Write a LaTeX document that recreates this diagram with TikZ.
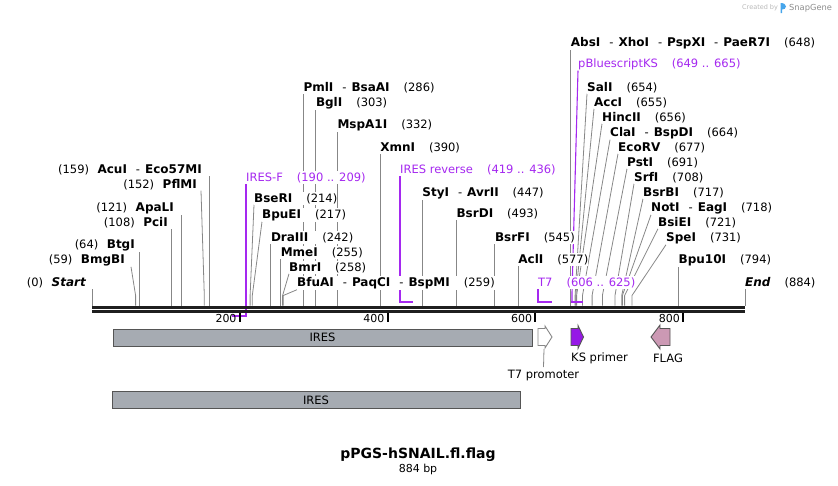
\documentclass[tikz,border=0pt]{standalone}
\usepackage{fontspec}
\setmainfont{DejaVu Sans}
\pgfdeclarelayer{lines}
\pgfsetlayers{lines,main}
\definecolor{sitegray}{RGB}{135,135,135}
\definecolor{prim}{RGB}{165,40,240}
\definecolor{primfill}{RGB}{150,25,230}
\definecolor{iresfill}{RGB}{166,171,178}
\definecolor{flagfill}{RGB}{204,153,180}
\definecolor{bordergray}{RGB}{85,85,85}
\definecolor{sgblue}{RGB}{70,165,235}
\newcommand\enz[1]{{\fontsize{12}{13}\selectfont\bfseries #1}}
\newcommand\enzi[1]{{\fontsize{12}{13}\selectfont\bfseries\itshape #1}}
\newcommand\enzgap{\hspace{14pt}}
\newcommand\enzdash{\hspace{9pt}-\hspace{5pt}}
\newcommand\lgap{\hspace{8.5pt}}
\begin{document}
\begin{tikzpicture}[x=1pt,y=-1pt,
  siteline/.style={draw=sitegray,line width=0.8pt},
  primline/.style={draw=prim,line width=1.5pt},
  lab/.style={fill=white,inner xsep=0pt,inner ysep=1pt,font=\fontsize{11.5}{13}\selectfont},
  rlab/.style={lab,anchor=base west},
  llab/.style={lab,anchor=base east},
  plab/.style={lab,anchor=base west,text=prim},
  featfont/.style={font=\fontsize{11.5}{13}\selectfont},
  tickmark/.style={draw=black,line width=2pt},
  seqline/.style={draw=black!88,line width=3pt},
  iresbox/.style={draw=bordergray,fill=iresfill,line width=0.9pt,featfont,inner sep=0pt,minimum height=17pt}
]
\useasboundingbox (0,0) rectangle (838,485);

% ---------- site coordinates ----------
\foreach \n/\x in {Start/92.3,BmgBI/135.6,BtgI/139.3,PciI/171.8,ApaLI/181.4,PflMI/204.3,AcuI/209.5,
  BseRI/250.1,BpuEI/252.3,DraIII/270.8,MmeI/280.6,BmrI/282.6,BfuAI/283.3,PmlI/303.3,BglI/315.8,
  MspA1I/337.3,XmnI/380.1,StyI/422.2,BsrDI/456.4,BsrFI/494.8,AclI/518.2,AbsI/570.7,SalI/575.1,
  AccI/575.8,HincII/576.6,ClaI/582.5,EcoRV/592.1,PstI/602.4,SrfI/615.0,BsrBI/621.7,NotI/622.4,
  BsiEI/624.6,SpeI/632.0,Bpu10I/678.5,End/745}
  \coordinate (s\n) at (\x,305.5);

% ---------- left-side labels ----------
\node[llab] (AcuI) at (202,173) {(159)\lgap\enz{AcuI}\enzdash\enz{Eco57MI}};
\node[llab] (PflMI) at (197,188) {(152)\lgap\enz{PflMI}};
\node[llab] (ApaLI) at (174,211) {(121)\lgap\enz{ApaLI}};
\node[llab] (PciI) at (168,226) {(108)\lgap\enz{PciI}};
\node[llab] (BtgI) at (135,248) {(64)\lgap\enz{BtgI}};
\node[llab] (BmgBI) at (125,263) {(59)\lgap\enz{BmgBI}};
\node[llab] (Start) at (86,286) {(0)\lgap\enzi{Start}};

% ---------- right-side labels ----------
\node[rlab] (PmlI) at (303.3,91) {\enz{PmlI}\enzdash\enz{BsaAI}\enzgap(286)};
\node[rlab] (BglI) at (315.8,106) {\enz{BglI}\enzgap(303)};
\node[rlab] (MspA1I) at (337.3,128) {\enz{MspA1I}\enzgap(332)};
\node[rlab] (XmnI) at (380.1,151) {\enz{XmnI}\enzgap(390)};
\node[rlab] (BseRI) at (254,202) {\enz{BseRI}\enzgap(214)};
\node[rlab] (BpuEI) at (262,218) {\enz{BpuEI}\enzgap(217)};
\node[rlab] (DraIII) at (270.8,241) {\enz{DraIII}\enzgap(242)};
\node[rlab] (MmeI) at (280.6,256) {\enz{MmeI}\enzgap(255)};
\node[rlab] (BmrI) at (289,271) {\enz{BmrI}\enzgap(258)};
\node[rlab] (BfuAI) at (297,286) {\enz{BfuAI}\enzdash\enz{PaqCI}\enzdash\enz{BspMI}\enzgap(259)};
\node[rlab] (StyI) at (422.2,196) {\enz{StyI}\enzdash\enz{AvrII}\enzgap(447)};
\node[rlab] (BsrDI) at (456.4,217) {\enz{BsrDI}\enzgap(493)};
\node[rlab] (BsrFI) at (494.8,241) {\enz{BsrFI}\enzgap(545)};
\node[rlab] (AclI) at (518.2,263) {\enz{AclI}\enzgap(577)};
\node[rlab] (AbsI) at (570.7,46) {\enz{AbsI}\enzdash\enz{XhoI}\enzdash\enz{PspXI}\enzdash\enz{PaeR7I}\enzgap(648)};
\node[rlab] (SalI) at (587,91) {\enz{SalI}\enzgap(654)};
\node[rlab] (AccI) at (594,106) {\enz{AccI}\enzgap(655)};
\node[rlab] (HincII) at (602,121) {\enz{HincII}\enzgap(656)};
\node[rlab] (ClaI) at (610,136) {\enz{ClaI}\enzdash\enz{BspDI}\enzgap(664)};
\node[rlab] (EcoRV) at (618,151) {\enz{EcoRV}\enzgap(677)};
\node[rlab] (PstI) at (627,166) {\enz{PstI}\enzgap(691)};
\node[rlab] (SrfI) at (634,181) {\enz{SrfI}\enzgap(708)};
\node[rlab] (BsrBI) at (643,196) {\enz{BsrBI}\enzgap(717)};
\node[rlab] (NotI) at (651,211) {\enz{NotI}\enzdash\enz{EagI}\enzgap(718)};
\node[rlab] (BsiEI) at (658,226) {\enz{BsiEI}\enzgap(721)};
\node[rlab] (SpeI) at (666,241) {\enz{SpeI}\enzgap(731)};
\node[rlab] (Bpu10I) at (678.5,263) {\enz{Bpu10I}\enzgap(794)};
\node[rlab] (End) at (745,286) {\enzi{End}\enzgap(884)};

% ---------- primer labels ----------
\node[plab] (IRESF) at (246,181) {IRES-F\enzgap(190 .. 209)};
\node[plab] (IRESR) at (400,173) {IRES reverse\enzgap(419 .. 436)};
\node[plab] (T7) at (538,286) {T7\enzgap(606 .. 625)};
\node[plab] (pBKS) at (578,67) {pBluescriptKS\enzgap(649 .. 665)};

% ---------- connector lines (behind labels) ----------
\begin{pgfonlayer}{lines}
  \foreach \n in {Start,BtgI,PciI,ApaLI,AcuI,DraIII,MmeI,PmlI,BglI,MspA1I,XmnI,StyI,BsrDI,BsrFI,AclI,AbsI,Bpu10I,End}
    \draw[siteline] (s\n) -- (s\n |- \n.south);
  \foreach \n in {BseRI,BpuEI,BmrI,BfuAI,SalI,AccI,HincII,ClaI,EcoRV,PstI,SrfI,BsrBI,NotI,BsiEI,SpeI}
    \draw[siteline] (s\n) -- ++(0,-10) -- (\n.south west);
  \draw[siteline] (sPflMI) -- ++(0,-10) -- ([xshift=4pt]PflMI.south east);
  \draw[siteline] (sBmgBI) -- ++(0,-10) -- ([xshift=6pt]BmgBI.south east);
  % primer brackets
  \draw[primline] (IRESF.south west) -- (246,316) -- (232.4,316);
  \draw[primline] (IRESR.south west) -- (400,302) -- (413,302);
  \draw[primline] (T7.south west) -- (538,302) -- (552,302);
  \draw[primline,line width=1.1pt] (pBKS.south west) -- (572,293) -- (572,302);
  \draw[primline] (571.4,302) -- (583.2,302);
\end{pgfonlayer}

% ---------- sequence double line ----------
\draw[seqline] (92,307.2) -- (745,307.2);
\draw[seqline] (92,311.8) -- (745,311.8);

% ---------- ruler ----------
\foreach \v/\x in {200/239.7,400/387.5,600/535.2,800/683} {
  \draw[tickmark] (\x,313) -- (\x,322);
  \node[anchor=east,inner xsep=0pt,font=\fontsize{11}{12}\selectfont] (t\v) at (\x-3,318.5) {\v};
}

% ---------- features ----------
\node[iresbox,minimum width=419pt] (IRES1) at (322.5,337.5) {IRES};
\node[iresbox,minimum width=408pt] (IRES2) at (316,400) {IRES};
\draw[draw=sitegray,fill=white,line width=0.9pt]
  (538,328.5) -- (545,328.5) -- (545,326) -- (552,337) -- (545,348) -- (545,345.5) -- (538,345.5) -- cycle;
\draw[draw=bordergray,fill=primfill,line width=0.9pt]
  (571,328.5) -- (578,328.5) -- (578,325.5) -- (583.5,337) -- (578,348.5) -- (578,345.5) -- (571,345.5) -- cycle;
\draw[draw=bordergray,fill=flagfill,line width=0.9pt]
  (670,328.5) -- (660,328.5) -- (660,325) -- (651,337) -- (660,349) -- (660,345.5) -- (670,345.5) -- cycle;
\coordinate (T7foot) at (544,349);
\node[featfont,anchor=north] (T7P) at (543.5,367) {T7 promoter};
\draw[siteline] (T7foot) -- (T7P.north);
\node[featfont,anchor=west,inner xsep=0pt] (KSl) at (571,358) {KS primer};
\node[featfont] (FLAGl) at (668,358) {FLAG};

% ---------- title ----------
\node[font=\fontsize{14}{16}\selectfont\bfseries] (title) at (418,455) {pPGS-hSNAIL.fl.flag};
\node[font=\fontsize{11}{12}\selectfont] (bp) at (418,469.5) {884 bp};

% ---------- credit ----------
\node[anchor=west,inner xsep=0pt,text=black!28,font=\fontsize{6.5}{8}\selectfont] (credit) at (742,8) {Created by};
\fill[sgblue] (780.5,13) -- (780.5,3) .. controls (784,3) and (786,4.5) .. (786,6.5) .. controls (786,8.5) and (784,9.5) .. (782.2,9.5) -- (782.2,13) -- cycle;
\node[anchor=west,inner xsep=0pt,text=black!45,font=\fontsize{8.3}{9}\selectfont] (sgname) at (789,8) {SnapGene};
\end{tikzpicture}
\end{document}
